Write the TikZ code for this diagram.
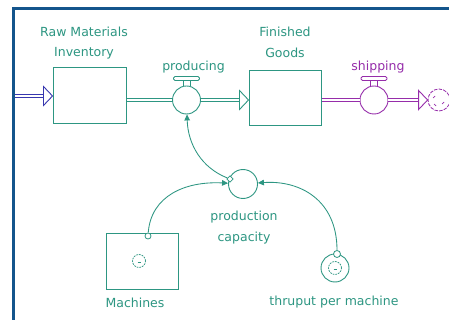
\documentclass[tikz,border=0pt]{standalone}
\usepackage{fontspec}
\setmainfont{DejaVu Sans}
\usetikzlibrary{arrows.meta,calc}
\definecolor{sdteal}{RGB}{45,150,130}
\definecolor{sdmag}{RGB}{150,45,170}
\definecolor{sdblue}{RGB}{55,55,175}
\definecolor{sdframe}{RGB}{20,85,140}
\begin{document}
\begin{tikzpicture}[x=1pt,y=-1pt,
  lbl/.style={font=\fontsize{12.5}{20.5}\selectfont, align=center, inner sep=0pt, text=sdteal},
  stock/.style={draw=sdteal, line width=1pt, minimum width=73pt, minimum height=56pt, inner sep=0pt},
  valvec/.style={circle, draw=sdteal, line width=0.9pt, minimum size=28pt, inner sep=0pt, fill=white},
  pipe/.style={draw=#1, line width=0.8pt, double=white, double distance=2.2pt},
  head/.style={draw=#1, line width=0.9pt, fill=white, line join=miter},
  link/.style={draw=sdteal, line width=0.85pt, -{Triangle[length=6pt,width=5.5pt]}},
  dot/.style={circle, draw=sdteal, line width=0.8pt, fill=white, minimum size=6pt, inner sep=0pt},
  gear/.style={circle, draw=sdteal, line width=0.75pt, dash pattern=on 1.8pt off 1pt, minimum size=13pt, inner sep=0pt},
]
\useasboundingbox (0,0) rectangle (449,320);
\fill[white] (0,0) rectangle (449,320);
% window frame
\draw[sdframe, line width=3pt] (13.3,321) -- (13.3,8.5) -- (449,8.5);

% stocks
\node[stock] (raw) at (89.5,96) {};
\node[stock, minimum width=72pt, minimum height=55pt] (fin) at (285,98.5) {};
\node[stock, minimum width=72pt] (mach) at (142,261) {};
\node[gear] (machgear) at (139,261) {};
\draw[sdteal, line width=0.6pt] ([xshift=-1.5pt,yshift=-1.5pt]machgear.center) -- ([xshift=1.5pt,yshift=-1.5pt]machgear.center);

% valves (flows)
\node[valvec] (pv) at (186.5,100) {};
\node[valvec, draw=sdmag] (sv) at (374,100) {};
\foreach \v/\c in {pv/sdteal, sv/sdmag}{
  \draw[\c, line width=0.8pt] ([xshift=-3.5pt]\v.north) -- ++(0,-5) ++(7,0) -- ++(0,5);
  \draw[\c, line width=0.8pt, fill=white, rounded corners=1.5pt]
    ($(\v.north)+(-13,-5)$) rectangle ($(\v.north)+(13,-9)$);
}

% source and sink
\coordinate (src) at (15,96);
\node[circle, draw=sdmag, line width=0.8pt, dash pattern=on 3.5pt off 1.2pt, minimum size=22pt, inner sep=0pt] (sink) at (439,100) {};
\draw[sdmag, line width=0.7pt] ($(sink.center)+(-6,-2)$) -- ++(2,-2)
  ($(sink.center)+(-5,4)$) -- ++(2,2) ($(sink.center)+(3,4)$) -- ++(2,-2);

% pipes
\draw[pipe=sdblue] (src) -- ([xshift=-9pt]raw.west);
\draw[head=sdblue] (raw.west) -- ++(-9,-9.5) -- ++(0,19) -- cycle;
\draw[pipe=sdteal] (raw.east |- pv.west) -- (pv.west);
\draw[pipe=sdteal] (pv.east) -- ([xshift=-9pt]fin.west |- pv.east);
\draw[head=sdteal] (fin.west |- pv.east) -- ++(-9,-9.5) -- ++(0,19) -- cycle;
\draw[pipe=sdmag] (fin.east |- sv.west) -- (sv.west);
\draw[pipe=sdmag] (sv.east) -- ([xshift=-9pt]sink.west);
\draw[head=sdmag] (sink.west) -- ++(-9,-9.5) -- ++(0,19) -- cycle;

% auxiliaries
\node[valvec, minimum size=29pt] (pc) at (243,184) {};
\node[valvec] (tp) at (335,268) {};
\node[gear] (tpgear) at (335,268) {};
\draw[sdteal, line width=0.6pt] ([xshift=-1.5pt,yshift=-1.5pt]tpgear.center) -- ([xshift=1.5pt,yshift=-1.5pt]tpgear.center);

% link markers
\node[dot] (md) at (148,236) {};
\node[dot, minimum size=7pt] (td) at (337,254) {};
\node[draw=sdteal, fill=white, line width=0.7pt, minimum size=4.5pt, inner sep=0pt, rotate=45] (pd) at (230,179) {};

% information links
\draw[link] (pd) .. controls (202,168) and (188,145) .. (pv);
\draw[link] (md) .. controls (151,196) and (185,181) .. (pc);
\draw[link] (td) .. controls (337,200) and (300,180) .. (pc);

% labels
\node[lbl] (rawlbl) at (84,43) {Raw Materials\\Inventory};
\node[lbl] (finlbl) at (285,42.5) {Finished\\Goods};
\node[lbl] (pvlbl) at (193.5,67) {producing};
\node[lbl, text=sdmag] (svlbl) at (378,67) {shipping};
\node[lbl] (pclbl) at (244,227.5) {production\\capacity};
\node[lbl] (machlbl) at (135,303) {Machines};
\node[lbl] (tplbl) at (334,302) {thruput per machine};
\end{tikzpicture}
\end{document}
